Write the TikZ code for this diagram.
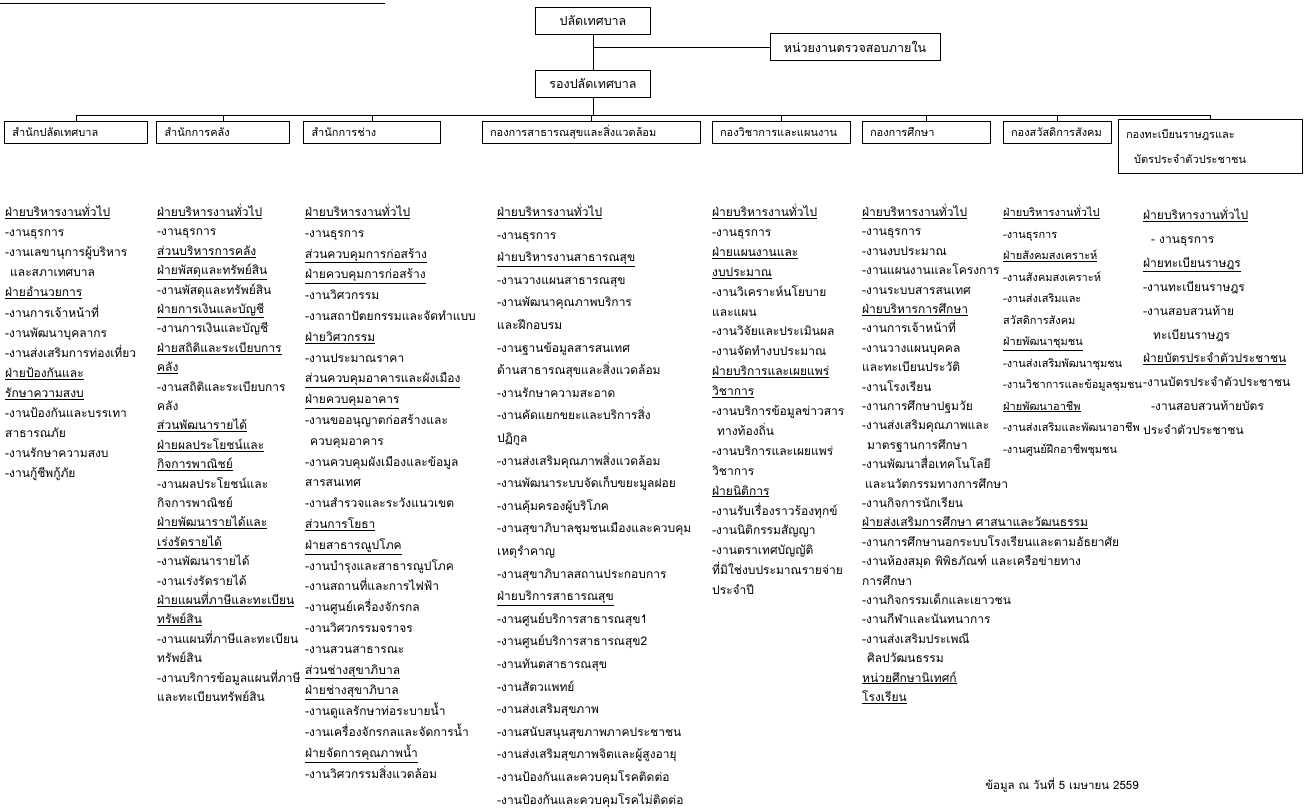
\documentclass[tikz,border=0pt]{standalone}
\usepackage{fontspec}
\setmainfont{Loma}[Script=Thai]
\begin{document}
\begin{tikzpicture}[x=1pt,y=-1pt,
  topbox/.style={draw, line width=0.9pt, minimum height=27pt, font=\fontsize{12.5}{14}\selectfont, inner sep=2pt},
  headbox/.style={draw, line width=0.7pt, minimum height=22pt, font=\fontsize{11}{13}\selectfont, inner xsep=8pt, inner ysep=2pt, align=left},
  col/.style={anchor=north west, align=left, inner sep=0pt},
  link/.style={draw, line width=0.8pt}
]
\useasboundingbox[fill=white] (0,0) rectangle (1306,810);
\draw[line width=0.6pt] (0,3) -- (385,3);

% top
\node[topbox, minimum width=115pt] (pl) at (593,21) {ปลัดเทศบาล};
\node[topbox, minimum width=170pt] (au) at (855,47) {หน่วยงานตรวจสอบภายใน};
\node[topbox, minimum width=115pt] (rp) at (593,84) {รองปลัดเทศบาล};
\coordinate (j1) at (pl.south |- au.west);
\draw[link] (pl.south) -- (rp.north);
\draw[link] (j1) -- (au.west);

% header boxes
\node[headbox, text width=127pt] (h1) at (76,132) {สำนักปลัดเทศบาล};
\node[headbox, text width=117pt] (h2) at (223,132) {สำนักการคลัง};
\node[headbox, text width=121pt] (h3) at (372,132) {สำนักการช่าง};
\node[headbox, text width=202pt] (h4) at (591,132) {กองการสาธารณสุขและสิ่งแวดล้อม};
\node[headbox, text width=122pt] (h5) at (781,132) {กองวิชาการและแผนงาน};
\node[headbox, text width=112pt] (h6) at (926,132) {กองการศึกษา};
\node[headbox, text width=92pt] (h7) at (1057,132) {กองสวัสดิการสังคม};
\node[headbox, text width=168pt, minimum height=54pt] (h8) at (1210,146) {กองทะเบียนราษฎรและ\\[12pt]\hspace*{8pt}บัตรประจำตัวประชาชน};

\coordinate (bus) at (593,115);
\draw[link] (rp.south) -- (bus);
\draw[link] (h1.north |- bus) -- (h8.north |- bus);
\foreach \h in {h1,h2,h3,h4,h5,h6,h7,h8}{
  \draw[link] (\h.north |- bus) -- (\h.north);
}

% columns
\node[col, font=\fontsize{12}{20.1}\selectfont] (c1) at (5,204) {%
\underline{ฝ่ายบริหารงานทั่วไป}\\
-งานธุรการ\\
-งานเลขานุการผู้บริหาร\\
\hspace*{5pt}และสภาเทศบาล\\
\underline{ฝ่ายอำนวยการ}\\
-งานการเจ้าหน้าที่\\
-งานพัฒนาบุคลากร\\
-งานส่งเสริมการท่องเที่ยว\\
\underline{ฝ่ายป้องกันและ}\\
\underline{รักษาความสงบ}\\
-งานป้องกันและบรรเทา\\
สาธารณภัย\\
-งานรักษาความสงบ\\
-งานกู้ชีพกู้ภัย};

\node[col, font=\fontsize{12}{19.4}\selectfont] (c2) at (157,204) {%
\underline{ฝ่ายบริหารงานทั่วไป}\\
-งานธุรการ\\
\underline{ส่วนบริหารการคลัง}\\
\underline{ฝ่ายพัสดุและทรัพย์สิน}\\
-งานพัสดุและทรัพย์สิน\\
\underline{ฝ่ายการเงินและบัญชี}\\
-งานการเงินและบัญชี\\
\underline{ฝ่ายสถิติและระเบียบการ}\\
\underline{คลัง}\\
-งานสถิติและระเบียบการ\\
คลัง\\
\underline{ส่วนพัฒนารายได้}\\
\underline{ฝ่ายผลประโยชน์และ}\\
\underline{กิจการพาณิชย์}\\
-งานผลประโยชน์และ\\
กิจการพาณิชย์\\
\underline{ฝ่ายพัฒนารายได้และ}\\
\underline{เร่งรัดรายได้}\\
-งานพัฒนารายได้\\
-งานเร่งรัดรายได้\\
\underline{ฝ่ายแผนที่ภาษีและทะเบียน}\\
\underline{ทรัพย์สิน}\\
-งานแผนที่ภาษีและทะเบียน\\
ทรัพย์สิน\\
-งานบริการข้อมูลแผนที่ภาษี\\
และทะเบียนทรัพย์สิน};

\node[col, font=\fontsize{12}{20.8}\selectfont] (c3) at (305,204) {%
\underline{ฝ่ายบริหารงานทั่วไป}\\
-งานธุรการ\\
\underline{ส่วนควบคุมการก่อสร้าง}\\
\underline{ฝ่ายควบคุมการก่อสร้าง}\\
-งานวิศวกรรม\\
-งานสถาปัตยกรรมและจัดทำแบบ\\
\underline{ฝ่ายวิศวกรรม}\\
-งานประมาณราคา\\
\underline{ส่วนควบคุมอาคารและผังเมือง}\\
\underline{ฝ่ายควบคุมอาคาร}\\
-งานขออนุญาตก่อสร้างและ\\
\hspace*{5pt}ควบคุมอาคาร\\
-งานควบคุมผังเมืองและข้อมูล\\
สารสนเทศ\\
-งานสำรวจและระวังแนวเขต\\
\underline{ส่วนการโยธา}\\
\underline{ฝ่ายสาธารณูปโภค}\\
-งานบำรุงและสาธารณูปโภค\\
-งานสถานที่และการไฟฟ้า\\
-งานศูนย์เครื่องจักรกล\\
-งานวิศวกรรมจราจร\\
-งานสวนสาธารณะ\\
\underline{ส่วนช่างสุขาภิบาล}\\
\underline{ฝ่ายช่างสุขาภิบาล}\\
-งานดูแลรักษาท่อระบายน้ำ\\
-งานเครื่องจักรกลและจัดการน้ำ\\
\underline{ฝ่ายจัดการคุณภาพน้ำ}\\
-งานวิศวกรรมสิ่งแวดล้อม};

\node[col, font=\fontsize{12}{22.6}\selectfont] (c4) at (497,204) {%
\underline{ฝ่ายบริหารงานทั่วไป}\\
-งานธุรการ\\
\underline{ฝ่ายบริหารงานสาธารณสุข}\\
-งานวางแผนสาธารณสุข\\
-งานพัฒนาคุณภาพบริการ\\
และฝึกอบรม\\
-งานฐานข้อมูลสารสนเทศ\\
ด้านสาธารณสุขและสิ่งแวดล้อม\\
-งานรักษาความสะอาด\\
-งานคัดแยกขยะและบริการสิ่ง\\
ปฏิกูล\\
-งานส่งเสริมคุณภาพสิ่งแวดล้อม\\
-งานพัฒนาระบบจัดเก็บขยะมูลฝอย\\
-งานคุ้มครองผู้บริโภค\\
-งานสุขาภิบาลชุมชนเมืองและควบคุม\\
เหตุรำคาญ\\
-งานสุขาภิบาลสถานประกอบการ\\
\underline{ฝ่ายบริการสาธารณสุข}\\
-งานศูนย์บริการสาธารณสุข1\\
-งานศูนย์บริการสาธารณสุข2\\
-งานทันตสาธารณสุข\\
-งานสัตวแพทย์\\
-งานส่งเสริมสุขภาพ\\
-งานสนับสนุนสุขภาพภาคประชาชน\\
-งานส่งเสริมสุขภาพจิตและผู้สูงอายุ\\
-งานป้องกันและควบคุมโรคติดต่อ\\
-งานป้องกันและควบคุมโรคไม่ติดต่อ};

\node[col, font=\fontsize{12}{19.9}\selectfont] (c5) at (712,204) {%
\underline{ฝ่ายบริหารงานทั่วไป}\\
-งานธุรการ\\
\underline{ฝ่ายแผนงานและ}\\
\underline{งบประมาณ}\\
-งานวิเคราะห์นโยบาย\\
และแผน\\
-งานวิจัยและประเมินผล\\
-งานจัดทำงบประมาณ\\
\underline{ฝ่ายบริการและเผยแพร่}\\
\underline{วิชาการ}\\
-งานบริการข้อมูลข่าวสาร\\
\hspace*{5pt}ทางท้องถิ่น\\
-งานบริการและเผยแพร่\\
วิชาการ\\
\underline{ฝ่ายนิติการ}\\
-งานรับเรื่องราวร้องทุกข์\\
-งานนิติกรรมสัญญา\\
-งานตราเทศบัญญัติ\\
ที่มิใช่งบประมาณรายจ่าย\\
ประจำปี};

\node[col, font=\fontsize{12}{19.4}\selectfont] (c6) at (862,204) {%
\underline{ฝ่ายบริหารงานทั่วไป}\\
-งานธุรการ\\
-งานงบประมาณ\\
-งานแผนงานและโครงการ\\
-งานระบบสารสนเทศ\\
\underline{ฝ่ายบริหารการศึกษา}\\
-งานการเจ้าหน้าที่\\
-งานวางแผนบุคคล\\
และทะเบียนประวัติ\\
-งานโรงเรียน\\
-งานการศึกษาปฐมวัย\\
-งานส่งเสริมคุณภาพและ\\
\hspace*{5pt}มาตรฐานการศึกษา\\
-งานพัฒนาสื่อเทคโนโลยี\\
\hspace*{3pt}และนวัตกรรมทางการศึกษา\\
-งานกิจการนักเรียน\\
\underline{ฝ่ายส่งเสริมการศึกษา ศาสนาและวัฒนธรรม}\\
-งานการศึกษานอกระบบโรงเรียนและตามอัธยาศัย\\
-งานห้องสมุด พิพิธภัณฑ์ และเครือข่ายทาง\\
การศึกษา\\
-งานกิจกรรมเด็กและเยาวชน\\
-งานกีฬาและนันทนาการ\\
-งานส่งเสริมประเพณี\\
\hspace*{5pt}ศิลปวัฒนธรรม\\
\underline{หน่วยศึกษานิเทศก์}\\
\underline{โรงเรียน}};

\node[col, font=\fontsize{11}{21.5}\selectfont] (c7) at (1003,205) {%
\underline{ฝ่ายบริหารงานทั่วไป}\\
-งานธุรการ\\
\underline{ฝ่ายสังคมสงเคราะห์}\\
-งานสังคมสงเคราะห์\\
-งานส่งเสริมและ\\
สวัสดิการสังคม\\
\underline{ฝ่ายพัฒนาชุมชน}\\
-งานส่งเสริมพัฒนาชุมชน\\
-งานวิชาการและข้อมูลชุมชน\\
\underline{ฝ่ายพัฒนาอาชีพ}\\
-งานส่งเสริมและพัฒนาอาชีพ\\
-งานศูนย์ฝึกอาชีพชุมชน};

\node[col, font=\fontsize{12}{23.9}\selectfont] (c8) at (1143,207) {%
\underline{ฝ่ายบริหารงานทั่วไป}\\
\hspace*{8pt}- งานธุรการ\\
\underline{ฝ่ายทะเบียนราษฎร}\\
-งานทะเบียนราษฎร\\
-งานสอบสวนท้าย\\
\hspace*{10pt}ทะเบียนราษฎร\\
\underline{ฝ่ายบัตรประจำตัวประชาชน}\\
-งานบัตรประจำตัวประชาชน\\
\hspace*{8pt}-งานสอบสวนท้ายบัตร\\
ประจำตัวประชาชน};

\node[font=\fontsize{11.5}{13}\selectfont, inner sep=0pt] (note) at (1062,785) {ข้อมูล ณ วันที่ 5 เมษายน 2559};
\end{tikzpicture}
\end{document}
